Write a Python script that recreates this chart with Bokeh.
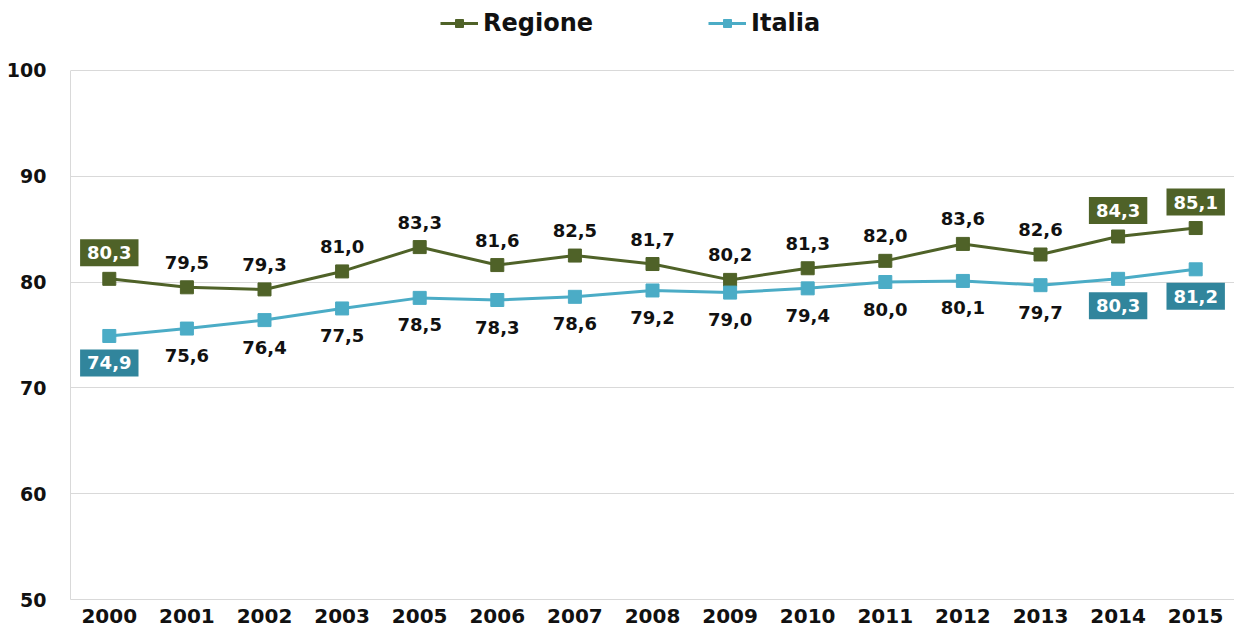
from bokeh.plotting import figure
from bokeh.models import ColumnDataSource, Range1d, Legend, LegendItem, FixedTicker
from bokeh.core.properties import value
from bokeh.embed import file_html
from bokeh.resources import INLINE

years = ["2000", "2001", "2002", "2003", "2005", "2006", "2007", "2008",
         "2009", "2010", "2011", "2012", "2013", "2014", "2015"]
regione = [80.3, 79.5, 79.3, 81.0, 83.3, 81.6, 82.5, 81.7, 80.2, 81.3, 82.0, 83.6, 82.6, 84.3, 85.1]
italia = [74.9, 75.6, 76.4, 77.5, 78.5, 78.3, 78.6, 79.2, 79.0, 79.4, 80.0, 80.1, 79.7, 80.3, 81.2]
highlight_years = ["2000", "2014", "2015"]
y_ticks = [50, 60, 70, 80, 90, 100]

GREEN = "#4F6228"
BLUE = "#4BACC6"
BLUE_BOX = "#31859C"
FONT = "DejaVu Sans"

def fmt(v):
    return f"{v:.1f}".replace(".", ",")

p = figure(x_range=years, y_range=Range1d(50, 106.6), width=1234, height=626,
           output_backend="svg", toolbar_location=None,
           min_border_left=70, min_border_right=0, min_border_top=0, min_border_bottom=27)
p.outline_line_color = None
p.background_fill_color = "white"

src_r = ColumnDataSource(dict(x=years, y=regione))
src_i = ColumnDataSource(dict(x=years, y=italia))

lr = p.line("x", "y", source=src_r, line_color=GREEN, line_width=3)
mr = p.scatter("x", "y", source=src_r, marker="square", size=13, fill_color=GREEN, line_color=GREEN)
li = p.line("x", "y", source=src_i, line_color=BLUE, line_width=3)
mi = p.scatter("x", "y", source=src_i, marker="square", size=13, fill_color=BLUE, line_color=BLUE)

def label_sources(vals):
    plain = dict(x=[], y=[], t=[])
    boxed = dict(x=[], y=[], t=[])
    for yr, v in zip(years, vals):
        d = boxed if yr in highlight_years else plain
        d["x"].append(yr)
        d["y"].append(v)
        d["t"].append(fmt(v))
    return ColumnDataSource(plain), ColumnDataSource(boxed)

pr, br = label_sources(regione)
pi, bi = label_sources(italia)

common = dict(text="t", text_align="center", text_baseline="middle",
              text_font=value(FONT), text_font_style="bold", text_font_size="18px")
p.text("x", "y", source=pr, y_offset=-25, text_color="#111111", **common)
p.text("x", "y", source=pi, y_offset=27, text_color="#111111", **common)
p.text("x", "y", source=br, y_offset=-26, text_color="white",
       background_fill_color=GREEN, padding=7, **common)
p.text("x", "y", source=bi, y_offset=27, text_color="white",
       background_fill_color=BLUE_BOX, padding=7, **common)

# axes
p.yaxis.ticker = FixedTicker(ticks=y_ticks)
p.yaxis.bounds = (50, 100)
for ax in (p.xaxis[0], p.yaxis[0]):
    ax.axis_line_color = "#d9d9d9"
    ax.major_tick_line_color = None
    ax.minor_tick_line_color = None
    ax.major_label_text_font = FONT
    ax.major_label_text_font_style = "bold"
    ax.major_label_text_color = "#111111"
p.yaxis.major_label_text_font_size = "19px"
p.yaxis.major_label_standoff = 18
p.xaxis.major_label_text_font_size = "20px"
p.xaxis.major_label_standoff = 3
p.xgrid.grid_line_color = None
p.ygrid.grid_line_color = "#d9d9d9"
p.ygrid.grid_line_width = 1
p.x_range.range_padding = 0

legend = Legend(items=[LegendItem(label="Regione", renderers=[lr, mr]),
                       LegendItem(label="Italia", renderers=[li, mi])],
                orientation="horizontal", location=(370, 562),
                label_text_font=FONT, label_text_font_style="bold",
                label_text_font_size="24px", label_text_color="#111111",
                glyph_width=38, glyph_height=20, spacing=115, label_standoff=5,
                border_line_color=None, background_fill_alpha=0,
                margin=0, padding=8)
p.add_layout(legend)

open("out.html", "w").write(file_html(p, INLINE))
